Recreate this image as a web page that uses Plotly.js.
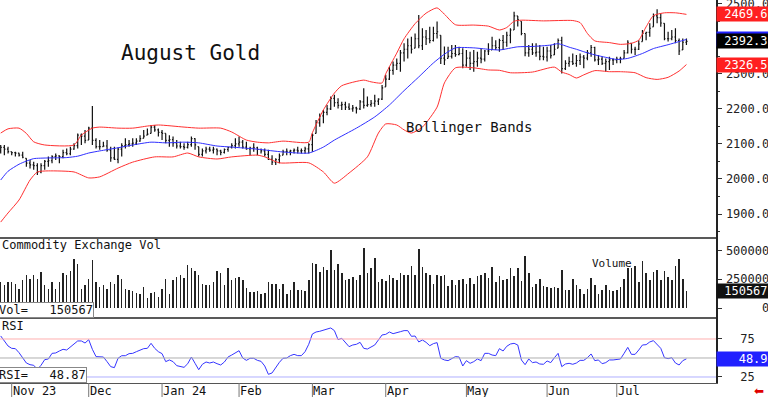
<!DOCTYPE html>
<html><head><meta charset="utf-8">
<script src="https://cdn.plot.ly/plotly-3.0.1.min.js"></script>
<style>html,body{margin:0;padding:0;background:#fff;}#chart{width:768px;height:397px;}</style>
</head><body><div id="chart"></div>
<script>
// ---- calendar of trading days (Oct 27 2023 .. Jul 29 2024) ----
const firstDay = '2023-10-27';
const lastDay = '2024-07-29';
const holidays = ['2023-11-23','2023-12-25','2024-01-01','2024-01-15','2024-02-19','2024-03-29','2024-05-27','2024-06-19','2024-07-04'];
const monthLabels = ['Nov 23','Dec','Jan 24','Feb','Mar','Apr','May','Jun','Jul'];

// ---- August gold daily bars ----
const open = [2080,2090,2085,2078,2075,2074,2068,2059,2045,2040,
 2038,2020,2038,2050,2052,2064,2066,2064,2075,2072,
 2085,2095,2125,2122,2111,2145,2110,2092,2092,2094,
 2082,2060,2056,2085,2095,2098,2100,2102,2108,2116,
 2125,2130,2148,2140,2133,2130,2110,2112,2103,2094,
 2092,2090,2098,2115,2092,2070,2080,2085,2082,2085,
 2080,2076,2084,2090,2095,2100,2105,2091,2086,2088,
 2089,2084,2080,2070,2056,2048,2055,2068,2078,2079,
 2080,2082,2080,2081,2086,2098,2130,2160,2180,2190,
 2200,2230,2218,2210,2212,2205,2200,2203,2200,2220,
 2210,2212,2216,2222,2228,2263,2285,2310,2325,2330,
 2360,2370,2380,2373,2400,2380,2405,2400,2395,2415,
 2410,2345,2344,2350,2358,2355,2358,2325,2345,2330,
 2335,2345,2342,2365,2368,2380,2375,2395,2390,2410,
 2425,2465,2450,2415,2360,2370,2360,2362,2350,2348,
 2365,2354,2373,2395,2315,2330,2335,2330,2338,2348,
 2345,2360,2375,2340,2342,2330,2335,2340,2340,2342,
 2344,2360,2387,2370,2370,2392,2415,2418,2434,2465,
 2460,2444,2400,2400,2405,2395,2368,2390];
const high = [2097,2097,2092,2078,2078,2075,2078,2059,2054,2049,
 2045,2045,2054,2064,2068,2073,2068,2083,2087,2092,
 2102,2130,2130,2140,2149,2208,2116,2111,2106,2111,
 2092,2092,2090,2102,2116,2111,2116,2116,2125,2140,
 2144,2154,2154,2144,2140,2130,2125,2121,2111,2106,
 2102,2106,2121,2116,2092,2087,2092,2092,2092,2087,
 2083,2087,2092,2102,2116,2121,2111,2106,2092,2102,
 2092,2087,2087,2083,2068,2059,2073,2083,2087,2083,
 2087,2092,2087,2092,2102,2130,2168,2187,2197,2211,
 2235,2240,2230,2220,2220,2216,2211,2206,2225,2259,
 2235,2225,2240,2230,2268,2297,2320,2335,2344,2368,
 2387,2401,2406,2415,2468,2430,2425,2434,2434,2449,
 2410,2378,2377,2382,2382,2377,2373,2368,2363,2368,
 2363,2373,2368,2387,2406,2396,2400,2411,2420,2430,
 2477,2465,2450,2415,2382,2387,2387,2382,2377,2377,
 2382,2387,2401,2406,2339,2349,2358,2354,2358,2354,
 2368,2382,2377,2354,2349,2344,2349,2344,2349,2349,
 2368,2396,2387,2377,2396,2425,2420,2444,2472,2484,
 2472,2444,2420,2425,2430,2401,2401,2401];
const low = [2073,2068,2073,2068,2064,2064,2059,2035,2030,2026,
 2011,2016,2026,2035,2045,2054,2045,2059,2068,2068,
 2083,2087,2097,2102,2111,2097,2087,2083,2092,2078,
 2049,2054,2045,2064,2087,2092,2092,2097,2106,2116,
 2125,2130,2135,2121,2111,2102,2092,2092,2087,2087,
 2083,2087,2092,2083,2064,2064,2073,2078,2073,2068,
 2068,2073,2078,2087,2087,2092,2087,2083,2068,2078,
 2068,2073,2064,2054,2040,2040,2045,2068,2068,2068,
 2073,2073,2073,2073,2073,2078,2130,2149,2159,2182,
 2197,2206,2201,2197,2197,2197,2192,2187,2197,2201,
 2206,2206,2206,2211,2225,2263,2282,2297,2311,2306,
 2335,2344,2358,2373,2373,2368,2382,2387,2392,2401,
 2328,2325,2344,2344,2349,2353,2316,2320,2311,2306,
 2320,2330,2335,2354,2368,2368,2363,2368,2377,2387,
 2425,2435,2410,2350,2349,2354,2349,2339,2339,2335,
 2344,2354,2373,2301,2311,2320,2325,2320,2325,2316,
 2339,2349,2335,2325,2325,2306,2311,2325,2330,2330,
 2344,2358,2358,2354,2368,2392,2396,2406,2434,2444,
 2434,2396,2392,2396,2387,2354,2368,2382];
const close = [2090,2085,2078,2075,2074,2068,2062,2045,2040,2038,
 2020,2038,2050,2052,2064,2066,2064,2075,2072,2085,
 2095,2125,2122,2110,2145,2110,2092,2092,2094,2082,
 2060,2056,2085,2095,2098,2100,2102,2108,2115,2122,
 2128,2148,2140,2133,2130,2110,2112,2103,2094,2092,
 2090,2098,2115,2097,2070,2080,2085,2082,2085,2080,
 2076,2084,2090,2095,2100,2105,2091,2086,2088,2089,
 2084,2080,2070,2056,2048,2055,2066,2078,2079,2080,
 2082,2080,2081,2086,2098,2125,2160,2180,2190,2200,
 2230,2218,2210,2212,2205,2200,2203,2200,2220,2210,
 2212,2216,2222,2228,2260,2285,2310,2325,2330,2360,
 2370,2380,2370,2400,2380,2405,2400,2395,2415,2420,
 2345,2340,2350,2358,2355,2358,2325,2345,2330,2335,
 2345,2342,2365,2365,2380,2375,2395,2390,2410,2425,
 2465,2455,2415,2360,2370,2360,2362,2350,2348,2365,
 2352,2370,2395,2315,2330,2335,2330,2338,2348,2345,
 2360,2375,2340,2342,2330,2335,2340,2340,2342,2343,
 2360,2390,2370,2370,2385,2415,2418,2430,2465,2460,
 2445,2400,2400,2405,2395,2365,2390,2392.3];

// ---- Commodity Exchange volume ----
const volume = [226600,203000,227000,227000,212000,168000,241000,285000,256000,285000,
 256000,314000,197000,168000,227000,168000,227000,308000,285000,320000,
 425000,379000,168000,197000,256000,417000,227000,183000,197000,168000,
 227000,212000,291000,256000,168000,154000,145000,133000,124000,183000,
 86000,133000,139000,95000,168000,256000,124000,241000,270000,285000,
 262000,373000,344000,320000,285000,212000,203000,203000,227000,320000,
 300000,203000,344000,241000,262000,270000,241000,174000,139000,139000,
 145000,124000,133000,227000,212000,212000,168000,212000,124000,154000,
 227000,154000,154000,145000,241000,387000,382000,314000,358000,329000,
 504000,329000,382000,300000,241000,256000,270000,241000,291000,525000,
 300000,344000,437000,227000,256000,232000,285000,262000,241000,308000,
 291000,291000,367000,285000,513000,358000,308000,291000,212000,285000,
 279000,285000,192000,241000,197000,241000,250000,212000,262000,212000,
 279000,285000,308000,262000,358000,227000,279000,241000,256000,344000,
 279000,349000,232000,455000,300000,183000,212000,256000,189000,183000,
 177000,183000,174000,329000,154000,154000,256000,197000,168000,124000,
 162000,262000,197000,118000,154000,197000,154000,145000,154000,183000,
 256000,349000,344000,367000,227000,408000,300000,241000,314000,329000,
 241000,320000,270000,241000,367000,425000,256000,150567];

// ---- RSI ----
const rsi = [79.0,72.4,65.8,62.7,62.3,57.0,50.4,43.4,41.2,40.4,
 35.1,40.4,47.8,48.7,56.1,56.6,59.2,61.4,60.5,64.9,
 68.0,72.4,72.4,69.7,74.1,61.4,51.8,51.8,51.3,45.2,
 38.6,37.3,49.6,53.0,53.0,55.7,56.1,58.3,60.5,62.3,
 62.7,69.3,62.7,58.3,55.7,45.2,47.4,45.2,39.9,38.6,
 37.7,42.5,51.3,43.0,34.6,41.7,44.7,43.4,44.7,42.5,
 40.8,44.7,51.3,53.9,56.6,59.6,50.0,46.9,49.6,49.6,
 46.9,45.6,39.5,28.5,30.3,37.7,44.3,49.6,50.0,53.1,
 54.8,53.1,53.1,58.3,68.0,81.6,84.2,85.1,86.8,87.7,
 89.5,86.0,74.1,75.9,71.1,64.9,67.1,68.0,70.6,62.7,
 61.8,64.9,67.1,73.7,80.3,81.1,84.2,82.0,83.8,84.6,
 86.0,86.0,78.5,78.9,71.1,73.7,70.6,66.2,68.9,70.2,
 49.6,47.4,46.5,49.6,51.8,51.3,39.5,46.5,43.0,45.2,
 48.7,46.5,56.1,56.1,53.9,53.1,62.3,59.2,65.4,68.4,
 69.3,67.1,47.4,41.2,48.7,43.9,44.7,42.1,41.7,46.1,
 43.9,50.4,56.1,38.6,42.1,43.0,41.7,43.4,46.9,46.9,
 50.4,55.3,46.5,47.4,42.5,43.9,47.4,47.4,48.2,48.7,
 56.1,64.0,54.8,54.8,60.5,67.1,67.5,71.1,72.8,68.0,
 62.7,50.4,49.1,50.4,43.4,40.8,46.5,48.87];

// ---- Bollinger bands read at selected bars (bar number, value) ----
const upperBar = [0,2,5,7,9,12,20,22,25,27,32,36,40,43,50,54,60,63,67,70,73,77,84,85,88,91,93,99,101,104,105,108,110,113,116,119,121,124,129,133,136,138,140,142,148,156,158,160,162,166,169,172,174,176,178,181,184,187];
const upperVal = [2131,2143,2145,2130,2106,2097,2097,2125,2145,2148,2145,2145,2151,2154,2148,2145,2145,2134,2111,2105,2103,2108,2105,2132,2197,2245,2266,2282,2277,2274,2300,2359,2400,2443,2473,2488,2470,2440,2439,2436,2425,2432,2450,2453,2451,2452,2446,2415,2394,2389,2384,2387,2396,2434,2466,2474,2474,2469.6];
const midBar = [0,2,5,7,9,13,18,21,24,27,32,36,41,45,50,54,59,63,70,77,84,88,91,97,102,106,110,114,118,121,124,129,133,136,141,145,150,152,155,157,159,162,165,168,171,175,178,182,185,187];
const midVal = [1997,2022,2042,2051,2058,2060,2061,2065,2074,2080,2089,2097,2105,2103,2105,2103,2094,2091,2085,2077,2074,2091,2111,2145,2177,2211,2252,2291,2331,2356,2374,2374,2370,2368,2377,2378,2382,2386,2376,2370,2363,2354,2347,2341,2344,2358,2372,2383,2392,2398.05];
const lowerBar = [0,2,5,8,10,13,20,24,27,32,36,42,47,51,54,59,63,70,72,76,84,88,91,95,100,103,105,108,110,112,115,119,121,124,129,133,136,139,145,151,153,155,157,159,162,166,169,173,176,179,182,185,187];
const lowerVal = [1877,1903,1940,1997,2020,2023,2020,2003,2006,2031,2048,2063,2063,2074,2063,2057,2063,2068,2063,2046,2046,2020,1988,2017,2063,2131,2157,2154,2140,2131,2148,2205,2274,2317,2317,2311,2310,2303,2305,2319,2305,2298,2288,2297,2309,2306,2306,2303,2289,2284,2290,2308,2326.5];

// ---- axis ticks / levels ----
const priceTicks = [1900,2000,2100,2200,2300,2400,2500];
const volTicks = [0,250000,500000];
const rsiTicks = [25,75];
const rsiLevels = [75,50,25];

// ---- build trading-day list ----
const dates = [];
(function(){
  const hol = new Set(holidays);
  let d = new Date(firstDay + 'T00:00:00Z');
  const end = new Date(lastDay + 'T00:00:00Z');
  while (d <= end) {
    const wd = d.getUTCDay();
    const s = d.toISOString().slice(0,10);
    if (wd !== 0 && wd !== 6 && !hol.has(s)) dates.push(s);
    d = new Date(d.getTime() + 86400000);
  }
})();
const xi = dates.map((d,i)=>i);
const monthStarts = [];
dates.forEach((d,i)=>{ if (i>0 && d.slice(5,7)!==dates[i-1].slice(5,7)) monthStarts.push(i); });

const MONO = 'DejaVu Sans Mono, Liberation Mono, monospace';
const nb = n => '\u00a0'.repeat(n);
const last = a => a[a.length-1];

const traces = [
  {type:'scatter', mode:'lines', x:upperBar, y:upperVal, line:{color:'#ff3030', width:1, shape:'spline', smoothing:0.6}, hoverinfo:'skip', xaxis:'x', yaxis:'y'},
  {type:'scatter', mode:'lines', x:lowerBar, y:lowerVal, line:{color:'#ff3030', width:1, shape:'spline', smoothing:0.6}, hoverinfo:'skip', xaxis:'x', yaxis:'y'},
  {type:'scatter', mode:'lines', x:midBar, y:midVal, line:{color:'#3030ff', width:1, shape:'spline', smoothing:0.6}, hoverinfo:'skip', xaxis:'x', yaxis:'y'},
  {type:'ohlc', x:xi, open:open, high:high, low:low, close:close, tickwidth:0.3,
   increasing:{line:{color:'#111', width:1.2}}, decreasing:{line:{color:'#111', width:1.2}}, hoverinfo:'skip', xaxis:'x', yaxis:'y'},
  {type:'bar', x:xi, y:volume, width:0.42, marker:{color:'#222', line:{width:0}}, hoverinfo:'skip', xaxis:'x', yaxis:'y2'},
  {type:'scatter', mode:'lines', x:xi, y:rsi, line:{color:'#3535ff', width:1}, hoverinfo:'skip', xaxis:'x', yaxis:'y3'}
];

const axisFont = {family:MONO, size:12, color:'#222'};
const yCommon = {side:'right', anchor:'x', showgrid:false, zeroline:false, showline:true, linecolor:'#222', linewidth:1.5,
  ticks:'outside', ticklen:4, tickcolor:'#333', tickfont:axisFont, ticklabeloverflow:'allow', ticklabelstandoff:2, fixedrange:true};

const shapes = [
  {type:'line', xref:'paper', yref:'paper', x0:0, x1:1, y0:0.3786, y1:0.3786, line:{color:'#222', width:1.5}},
  {type:'line', xref:'paper', yref:'paper', x0:0, x1:1, y0:0.1697, y1:0.1697, line:{color:'#222', width:1.5}}
];
const levelColors = ['#ffb0b0','#b0b0b0','#b0b0ff'];
rsiLevels.forEach((v,k)=>shapes.push({type:'line', xref:'paper', yref:'y3', x0:0, x1:1, y0:v, y1:v, line:{color:levelColors[k], width:1}}));
monthStarts.forEach(i=>shapes.push({type:'line', xref:'x', yref:'paper', x0:i, x1:i, y0:0, y1:-0.037, line:{color:'#777', width:1}}));

const annotations = [
  {xref:'paper', yref:'paper', x:0.166, y:0.8616, xanchor:'left', yanchor:'middle', showarrow:false, text:'August Gold', font:{family:MONO, size:21, color:'#111'}},
  {xref:'paper', yref:'paper', x:0.564, y:0.6684, xanchor:'left', yanchor:'middle', showarrow:false, text:'Bollinger Bands', font:{family:MONO, size:14, color:'#111'}},
  {xref:'paper', yref:'paper', x:0.0, y:0.3603, xanchor:'left', yanchor:'middle', showarrow:false, text:'Commodity Exchange Vol', font:{family:MONO, size:12, color:'#111'}},
  {xref:'paper', yref:'paper', x:0.824, y:0.3133, xanchor:'left', yanchor:'middle', showarrow:false, text:'Volume', font:{family:MONO, size:11, color:'#111'}},
  {xref:'paper', yref:'paper', x:0.0, y:0.1488, xanchor:'left', yanchor:'middle', showarrow:false, text:'RSI', font:{family:MONO, size:12, color:'#111'}},
  {xref:'paper', yref:'paper', x:0, xshift:-2, y:0.1697, yanchor:'bottom', xanchor:'left', showarrow:false, text:'Vol='+nb(3)+last(volume), bgcolor:'#fff', bordercolor:'#888', borderwidth:1, borderpad:0, font:{family:MONO, size:12, color:'#111'}},
  {xref:'paper', yref:'paper', x:0, xshift:-2, y:0, yanchor:'bottom', xanchor:'left', showarrow:false, text:'RSI='+nb(3)+last(rsi).toFixed(2), bgcolor:'#fff', bordercolor:'#888', borderwidth:1, borderpad:0, font:{family:MONO, size:12, color:'#111'}},
  // right-side value boxes (moving average marker sits under the close box)
  {xref:'paper', yref:'y', x:1, y:last(midVal), xanchor:'left', yanchor:'middle', showarrow:false, text:nb(1), width:56, height:14, align:'left', bgcolor:'#2020ff', borderpad:0, font:{family:MONO, size:12, color:'#fff'}},
  {xref:'paper', yref:'y', x:1, y:last(close), xanchor:'left', yanchor:'middle', showarrow:false, text:nb(1)+last(close).toFixed(1), width:56, align:'left', bgcolor:'#000', borderpad:0, font:{family:MONO, size:12, color:'#fff'}},
  {xref:'paper', yref:'y', x:1, y:last(upperVal), xanchor:'left', yanchor:'middle', showarrow:false, text:nb(1)+last(upperVal).toFixed(1), width:56, align:'left', bgcolor:'#ff2020', borderpad:0, font:{family:MONO, size:12, color:'#fff'}},
  {xref:'paper', yref:'y', x:1, y:last(lowerVal), xanchor:'left', yanchor:'middle', showarrow:false, text:nb(1)+last(lowerVal).toFixed(1), width:56, align:'left', bgcolor:'#ff2020', borderpad:0, font:{family:MONO, size:12, color:'#fff'}},
  {xref:'paper', yref:'y2', x:1, y:last(volume), xanchor:'left', yanchor:'middle', showarrow:false, text:nb(1)+last(volume), width:56, align:'left', bgcolor:'#111', borderpad:0, font:{family:MONO, size:12, color:'#fff'}},
  {xref:'paper', yref:'y3', x:1, y:last(rsi), xanchor:'left', yanchor:'middle', showarrow:false, text:nb(3)+last(rsi).toFixed(1), width:56, align:'left', bgcolor:'#2020ff', borderpad:0, font:{family:MONO, size:12, color:'#fff'}},
  {xref:'paper', yref:'paper', x:1.06, y:-0.022, xanchor:'center', yanchor:'middle', showarrow:false, text:'\u2B05', font:{family:'DejaVu Sans', size:12, color:'#e00000'}}
];
monthStarts.forEach((i,k)=>annotations.push({xref:'x', yref:'paper', x:i, y:-0.0196, xanchor:'left', yanchor:'middle', xshift:0, showarrow:false, borderpad:0, text:monthLabels[k], font:{family:MONO, size:12, color:'#111'}}));

const layout = {
  width:768, height:397, margin:{l:0, r:52, t:0, b:14}, paper_bgcolor:'#fff', plot_bgcolor:'#fff',
  showlegend:false, bargap:0,
  xaxis:{range:[-0.19,195.06], anchor:'y3', showticklabels:false, ticks:'', showgrid:false, zeroline:false,
         showline:true, linecolor:'#555', linewidth:1, rangeslider:{visible:false}, fixedrange:true},
  yaxis:Object.assign({}, yCommon, {domain:[0.3786,1], range:[1831.6,2510.56], tickmode:'array', tickvals:priceTicks,
         ticktext:priceTicks.map(v=>v===2400?'':v.toFixed(1)), minor:{tickmode:'linear', tick0:1850, dtick:100, ticks:'outside', ticklen:2, tickcolor:'#333'}}),
  yaxis2:Object.assign({}, yCommon, {domain:[0.1697,0.3786], range:[-86957,608696], tickmode:'array', tickvals:volTicks,
         ticktext:volTicks.map(v=>{const s=String(v); return nb(6-s.length)+s;})}),
  yaxis3:Object.assign({}, yCommon, {domain:[0,0.1697], range:[17.1,102.6], tickmode:'array', tickvals:rsiTicks,
         ticktext:rsiTicks.map(v=>nb(2)+v)}),
  shapes:shapes, annotations:annotations,
  font:{family:MONO, size:12, color:'#111'}
};
Plotly.newPlot('chart', traces, layout, {staticPlot:true, displayModeBar:false});
</script></body></html>
